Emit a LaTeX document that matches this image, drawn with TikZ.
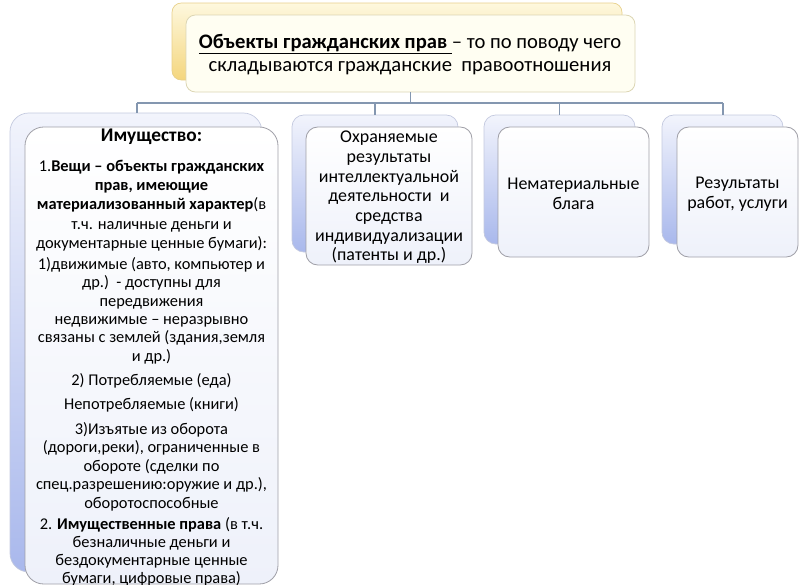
\documentclass[tikz,border=0pt]{standalone}
\usepackage{fontspec}
\setmainfont{Carlito}
\usetikzlibrary{fit}
\definecolor{lineblue}{HTML}{8497B0}
\definecolor{btop}{HTML}{F2F4FC}
\definecolor{bbot}{HTML}{A9B8EC}
\definecolor{bbord}{HTML}{C4CADF}
\definecolor{ftop}{HTML}{FFFFFF}
\definecolor{fbot}{HTML}{EEF1FA}
\definecolor{fbord}{HTML}{A0A0A8}
\definecolor{ytop}{HTML}{FEF8DE}
\definecolor{ybot}{HTML}{F4D67E}
\definecolor{ybord}{HTML}{E8D08A}
\definecolor{yfill}{HTML}{FFFEF2}
\definecolor{yfbord}{HTML}{DCD6B4}
\begin{document}
\begin{tikzpicture}[x=0.03cm,y=-0.03cm,
  backblue/.style={draw=bbord, rounded corners=10pt, top color=btop, bottom color=bbot, inner sep=0pt, line width=0.6pt},
  frontblue/.style={draw=fbord, rounded corners=10pt, top color=ftop, bottom color=fbot, inner sep=0pt, line width=0.7pt},
  backyellow/.style={draw=ybord, rounded corners=8pt, top color=ytop, bottom color=ybot, inner sep=0pt, line width=0.6pt},
  frontyellow/.style={draw=yfbord, rounded corners=8pt, fill=yfill, inner sep=0pt, line width=0.7pt},
  conn/.style={draw=lineblue, line width=0.9pt},
  smalltxt/.style={align=center, inner sep=0pt, font=\fontsize{14}{15.8}\selectfont},
  boxtxt/.style={align=center, inner sep=0pt, font=\fontsize{15.3}{16.8}\selectfont},
  titletxt/.style={align=center, inner sep=0pt, font=\fontsize{17.6}{19.6}\selectfont}]
\useasboundingbox (0,0) rectangle (807,585);

% connectors
\coordinate (busL) at (137,103);
\coordinate (busR) at (723,103);

% top boxes
\node[backyellow, fit={(172,3) (622,80)}] (topB) {};
\node[frontyellow, fit={(186,15) (635,92)}] (topF) {};
\node[titletxt] (title) at (410,54.5) {\underline{\textbf{Объекты гражданских прав }}– то по поводу чего\\складываются гражданские\ \ правоотношения};

% left box
\node[backblue, rounded corners=16pt, fit={(10,113) (262,572)}] (imuB) {};
\node[frontblue, rounded corners=16pt, fit={(25,127) (278,584)}] (imuF) {};
\node[smalltxt, font=\fontsize{16.5}{18}\selectfont\bfseries] (p0) at (151.5,137) {Имущество:};
\node[smalltxt, font=\fontsize{14}{16.5}\selectfont] (p1) at (151.5,205.5) {1.\textbf{Вещи – объекты гражданских}\\\textbf{прав, имеющие}\\\textbf{материализованный характер}(в\\т.ч. наличные деньги и\\документарные ценные бумаги):};
\node[smalltxt] (p2) at (151.5,283) {1)движимые (авто, компьютер и\\др.)\ \ - доступны для\\передвижения};
\node[smalltxt] (p3) at (151.5,340) {недвижимые – неразрывно\\связаны с землей (здания,земля\\и др.)};
\node[smalltxt] (p4) at (151.5,381) {2) Потребляемые (еда)};
\node[smalltxt] (p5) at (151.5,405) {Непотребляемые (книги)};
\node[smalltxt] (p6) at (151.5,466.5) {3)Изъятые из оборота\\(дороги,реки), ограниченные в\\обороте (сделки по\\спец.разрешению:оружие и др.),\\оборотоспособные};
\node[smalltxt, font=\fontsize{14}{15.3}\selectfont] (p7) at (151.5,552) {2. \textbf{Имущественные права} (в т.ч.\\безналичные деньги и\\бездокументарные ценные\\бумаги, цифровые права)};

% box 2
\node[backblue, fit={(292,115) (458,252)}] (intB) {};
\node[frontblue, fit={(306,127) (472,265)}] (intF) {};
\node[boxtxt] (intT) at (389,197.5) {Охраняемые\\результаты\\интеллектуальной\\деятельности\ \ и\\средства\\индивидуализации\\(патенты и др.)};

% box 3
\node[backblue, fit={(484,115) (635,244)}] (nmB) {};
\node[frontblue, fit={(498,127) (649,257)}] (nmF) {};
\node[boxtxt] (nmT) at (573.5,194) {Нематериальные\\блага};

% box 4
\node[backblue, fit={(662,115) (783,244)}] (rbB) {};
\node[frontblue, fit={(677,127) (798,257)}] (rbF) {};
\node[boxtxt] (rbT) at (737.5,194) {Результаты\\работ, услуги};

% connector lines
\draw[conn] (topF.south) -- (topF.south |- busL);
\draw[conn] (busL) -- (busR);
\draw[conn] (imuB.north -| busL) -- (busL);
\draw[conn] (intB.north) -- (intB.north |- busL);
\draw[conn] (nmB.north) -- (nmB.north |- busL);
\draw[conn] (rbB.north -| busR) -- (busR);
\end{tikzpicture}
\end{document}
